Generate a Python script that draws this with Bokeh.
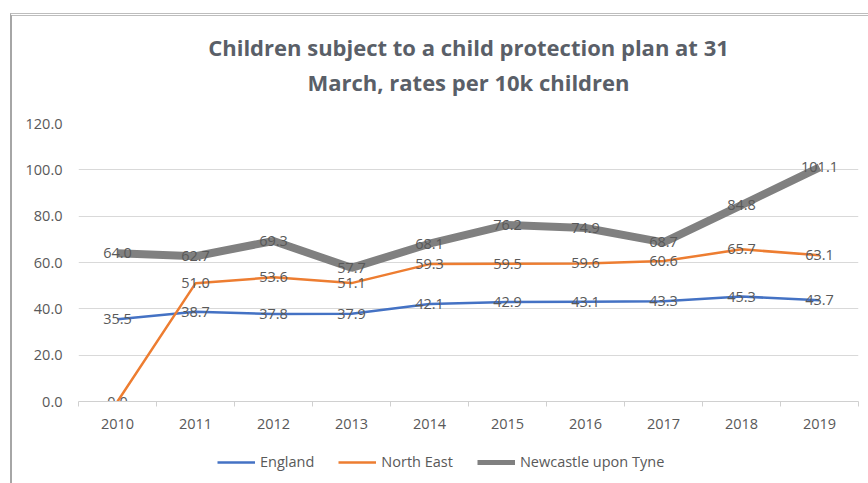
from bokeh.plotting import figure
from bokeh.layouts import column
from bokeh.models import (Range1d, FixedTicker, Label, Legend, LegendItem,
                          ColumnDataSource, NumeralTickFormatter)
from bokeh.core.properties import value
from bokeh.embed import file_html
from bokeh.resources import INLINE

years = [2010, 2011, 2012, 2013, 2014, 2015, 2016, 2017, 2018, 2019]
england = [35.5, 38.7, 37.8, 37.9, 42.1, 42.9, 43.1, 43.3, 45.3, 43.7]
north_east = [0.0, 51.0, 53.6, 51.1, 59.3, 59.5, 59.6, 60.6, 65.7, 63.1]
newcastle = [64.0, 62.7, 69.3, 57.7, 68.1, 76.2, 74.9, 68.7, 84.8, 101.1]
series_names = ["England", "North East", "Newcastle upon Tyne"]
title_lines = ["Children subject to a child protection plan at 31",
               "March, rates per 10k children"]
y_ticks = [0, 20, 40, 60, 80, 100, 120]

FONT = "Open Sans"
TXT = "#595959"
TITLE_C = "#5a5f68"
COLORS = ["#4472C4", "#ED7D31", "#808080"]
WIDTHS = [2.5, 2.5, 8]
W = 856

# ---- title strip ----
TH = 97
tf = figure(width=W, height=TH, output_backend="svg", toolbar_location=None,
            x_range=Range1d(0, 1), y_range=Range1d(0, TH),
            x_axis_type=None, y_axis_type=None,
            min_border_left=0, min_border_right=0, min_border_top=0,
            min_border_bottom=0)
tf.outline_line_color = None
tf.xgrid.grid_line_color = None
tf.ygrid.grid_line_color = None
for txt, ypos in zip(title_lines, [67, 32]):
    tf.add_layout(Label(x=0.5, y=ypos, text=txt, text_align="center",
                        text_baseline="middle", text_font=FONT,
                        text_font_size="22px", text_font_style="bold",
                        text_color=TITLE_C))

# ---- main chart ----
p = figure(width=W, height=335, output_backend="svg", toolbar_location=None,
           x_range=Range1d(years[0] - 0.5, years[-1] + 0.5),
           y_range=Range1d(0, 120),
           min_border_left=66, min_border_right=10, min_border_top=10,
           min_border_bottom=47)
p.outline_line_color = None
p.background_fill_color = "white"
p.border_fill_color = "white"

xa = p.xaxis[0]
xa.ticker = FixedTicker(ticks=years, minor_ticks=[y - 0.5 for y in years] + [years[-1] + 0.5])
xa.major_label_overrides = {y: str(y) for y in years}
xa.major_tick_out = 0
xa.major_tick_in = 0
xa.minor_tick_out = 5
xa.minor_tick_in = 0
xa.minor_tick_line_color = "#d0d0d0"
xa.axis_line_color = "#d0d0d0"
xa.major_label_standoff = 12
xa.major_label_text_font = FONT
xa.major_label_text_font_size = "14.5px"
xa.major_label_text_color = TXT

ya = p.yaxis[0]
ya.ticker = FixedTicker(ticks=y_ticks)
ya.formatter = NumeralTickFormatter(format="0.0")
ya.axis_line_color = None
ya.major_tick_line_color = None
ya.minor_tick_line_color = None
ya.major_tick_out = 0
ya.major_tick_in = 0
ya.major_label_standoff = 16
ya.major_label_text_font = FONT
ya.major_label_text_font_size = "14.5px"
ya.major_label_text_color = TXT

p.xgrid.grid_line_color = None
p.ygrid.grid_line_color = "#d9d9d9"
p.ygrid.grid_line_width = 1

src = ColumnDataSource(dict(x=years, e=england, ne=north_east, nc=newcastle,
                            e_t=[f"{v:.1f}" for v in england],
                            ne_t=[f"{v:.1f}" for v in north_east],
                            nc_t=[f"{v:.1f}" for v in newcastle]))

for ycol, c, w in zip(["e", "ne", "nc"], COLORS, WIDTHS):
    p.line("x", ycol, source=src, line_color=c, line_width=w)

for ycol in ["e", "ne", "nc"]:
    p.text("x", ycol, text=ycol + "_t", source=src, text_align="center",
           text_baseline="middle", text_font=value(FONT),
           text_font_size="14.5px", text_color=TXT)

# ---- legend strip (lines lie outside its own ranges) ----
lg = figure(width=W, height=35, output_backend="svg", toolbar_location=None,
            x_range=Range1d(0, 1), y_range=Range1d(0, 1),
            x_axis_type=None, y_axis_type=None,
            min_border_left=0, min_border_right=0, min_border_top=0,
            min_border_bottom=0)
lg.outline_line_color = None
lg.xgrid.grid_line_color = None
lg.ygrid.grid_line_color = None
lg.border_fill_color = "white"
items = []
for ycol, c, w, name in zip(["e", "ne", "nc"], COLORS, [2.5, 2.5, 5], series_names):
    r = lg.line("x", ycol, source=src, line_color=c, line_width=w)
    items.append(LegendItem(label=name, renderers=[r]))
legend = Legend(items=items, orientation="horizontal", location=(139, 12),
                glyph_width=38, glyph_height=18, label_standoff=5, spacing=24,
                padding=0, margin=0,
                label_text_font=FONT, label_text_font_size="14.5px",
                label_text_color=TXT,
                border_line_color=None, background_fill_alpha=0)
lg.add_layout(legend)

layout = column(tf, p, lg, spacing=0,
                styles={"border-left": "2px solid #a6a6a6",
                        "border-top": "3px double #bdbdbd",
                        "margin-left": "10px", "margin-top": "13px"})

open("out.html", "w").write(file_html(layout, INLINE))
